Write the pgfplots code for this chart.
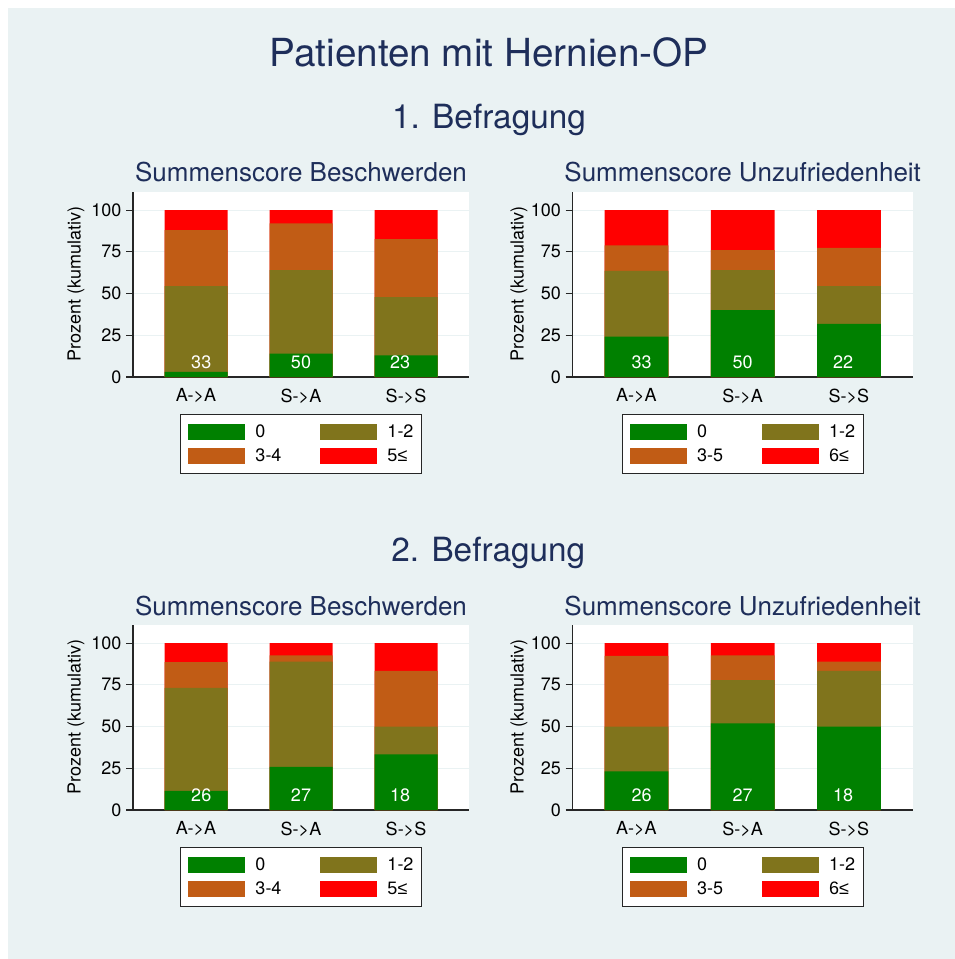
\documentclass[border=0pt]{standalone}
\usepackage{fontspec}
\setmainfont{TeX Gyre Heros}
\newfontfamily\symf{Liberation Sans}
\usepackage{pgfplots}
\usepackage{pgfplotstable}
\pgfplotsset{compat=1.18}

\definecolor{bgc}{RGB}{234,242,243}
\definecolor{gridc}{RGB}{234,242,243}
\definecolor{navy}{RGB}{30,46,90}
\definecolor{c0}{RGB}{0,128,0}
\definecolor{c1}{RGB}{128,116,28}
\definecolor{c2}{RGB}{193,92,21}
\definecolor{c3}{RGB}{255,0,0}

\newcommand\fmain{\fontsize{29}{32}\selectfont}
\newcommand\fsec{\fontsize{25}{28}\selectfont}
\newcommand\fsub{\fontsize{19.5}{22}\selectfont}
\newcommand\fs{\fontsize{13.5}{15}\selectfont}

% cumulative percentages per group (A->A, S->A, S->S)
\pgfplotstableread{
x c0 c1 c2 c3
1 3.0 54.5 87.9 100
2 14.0 64.0 92.0 100
3 13.0 47.8 82.6 100
}\tlb
\pgfplotstableread{
x c0 c1 c2 c3
1 24.2 63.6 78.8 100
2 40.0 64.0 76.0 100
3 31.8 54.5 77.3 100
}\trb
\pgfplotstableread{
x c0 c1 c2 c3
1 11.5 73.1 88.5 100
2 25.9 88.9 92.6 100
3 33.3 50.0 83.3 100
}\blb
\pgfplotstableread{
x c0 c1 c2 c3
1 23.1 50.0 92.3 100
2 51.9 77.8 92.6 100
3 50.0 83.3 88.9 100
}\brb

\pgfplotsset{
  seg/.style={ybar, bar shift=0pt, draw=none, fill=#1,
    legend image code/.code={\fill[#1] (0pt,-6pt) rectangle (42.75pt,6pt);}},
  nlab/.style={forget plot, only marks, mark=none, point meta=explicit symbolic,
    nodes near coords, nodes near coords align={center},
    nodes near coords style={anchor=center, text=white, font=\fs}},
  panel/.style={
    scale only axis, width=252pt, height=139pt, anchor=south west,
    xmin=0.4, xmax=3.6, ymin=0, ymax=111,
    axis x line=bottom, axis y line=left,
    x axis line style={-}, y axis line style={-},
    axis line style={draw=black!85, line width=0.8pt},
    axis background/.style={fill=white},
    xtick={1,2,3}, xticklabels={A->A,S->A,S->S},
    x tick style={draw=none},
    ytick={0,25,50,75,100}, tick align=outside, major tick length=5.25pt,
    y tick style={draw=black!85, line width=0.8pt},
    ymajorgrids, grid style={draw=gridc, line width=0.8pt},
    tick label style={font=\fs}, /pgf/number format/assume math mode=true,
    ylabel={Prozent (kumulativ)},
    every axis y label/.style={at={(axis description cs:#1,0.5)}, rotate=90, anchor=center, font=\fs},
    bar width=0.6, clip=false,
    legend columns=2, reverse legend, legend cell align=left,
    legend style={at={(0.5,0)}, anchor=north, yshift=-27.75pt,
      draw=black!85, line width=0.75pt, fill=white,
      inner xsep=6pt, inner ysep=7pt, row sep=6pt,
      nodes={inner sep=0pt, font=\fs},
      /tikz/every odd column/.append style={column sep=7.5pt}},
  },
}

\begin{document}
\begin{tikzpicture}[x=1pt,y=1pt]
\fill[white] (0,0) rectangle (716.25,-719.25);
\fill[bgc] (6,-6) rectangle (716.25,-719.25);

\node[anchor=base, text=navy, font=\fmain] at (366.75,-50) {Patienten mit Hernien-OP};
\node[anchor=base, text=navy, font=\fsec] at (366.75,-96.2) {1. Befragung};
\node[anchor=base, text=navy, font=\fsec] at (366.2,-421.3) {2. Befragung};
\node[anchor=base, text=navy, font=\fsub] at (225.75,-136.3) {Summenscore Beschwerden};
\node[anchor=base, text=navy, font=\fsub] at (557,-136.3) {Summenscore Unzufriedenheit};
\node[anchor=base, text=navy, font=\fsub] at (225.75,-461.3) {Summenscore Beschwerden};
\node[anchor=base, text=navy, font=\fsub] at (557,-461.3) {Summenscore Unzufriedenheit};

% 1. Befragung, Beschwerden
\begin{axis}[panel=-0.17, at={(99.75pt,-282.75pt)}]
\addplot[seg=c3] table[x=x,y=c3]{\tlb};
\addplot[seg=c2] table[x=x,y=c2]{\tlb};
\addplot[seg=c1] table[x=x,y=c1]{\tlb};
\addplot[seg=c0] table[x=x,y=c0]{\tlb};
\addplot[nlab] coordinates {(1.05,9) [33] (2,9) [50] (2.945,9) [23]};
\legend{{\symf 5≤},\makebox[48.75pt][l]{3-4},1-2,\makebox[48.75pt][l]{0}}
\end{axis}

% 1. Befragung, Unzufriedenheit
\begin{axis}[panel=-0.158, at={(429.5pt,-282.75pt)}, width=255pt]
\addplot[seg=c3] table[x=x,y=c3]{\trb};
\addplot[seg=c2] table[x=x,y=c2]{\trb};
\addplot[seg=c1] table[x=x,y=c1]{\trb};
\addplot[seg=c0] table[x=x,y=c0]{\trb};
\addplot[nlab] coordinates {(1.05,9) [33] (2,9) [50] (2.945,9) [22]};
\legend{{\symf 6≤},\makebox[48.75pt][l]{3-5},1-2,\makebox[48.75pt][l]{0}}
\end{axis}

% 2. Befragung, Beschwerden
\begin{axis}[panel=-0.17, at={(99.75pt,-607.5pt)}]
\addplot[seg=c3] table[x=x,y=c3]{\blb};
\addplot[seg=c2] table[x=x,y=c2]{\blb};
\addplot[seg=c1] table[x=x,y=c1]{\blb};
\addplot[seg=c0] table[x=x,y=c0]{\blb};
\addplot[nlab] coordinates {(1.05,9) [26] (2,9) [27] (2.945,9) [18]};
\legend{{\symf 5≤},\makebox[48.75pt][l]{3-4},1-2,\makebox[48.75pt][l]{0}}
\end{axis}

% 2. Befragung, Unzufriedenheit
\begin{axis}[panel=-0.158, at={(429.5pt,-607.5pt)}, width=255pt]
\addplot[seg=c3] table[x=x,y=c3]{\brb};
\addplot[seg=c2] table[x=x,y=c2]{\brb};
\addplot[seg=c1] table[x=x,y=c1]{\brb};
\addplot[seg=c0] table[x=x,y=c0]{\brb};
\addplot[nlab] coordinates {(1.05,9) [26] (2,9) [27] (2.945,9) [18]};
\legend{{\symf 6≤},\makebox[48.75pt][l]{3-5},1-2,\makebox[48.75pt][l]{0}}
\end{axis}
\end{tikzpicture}
\end{document}
